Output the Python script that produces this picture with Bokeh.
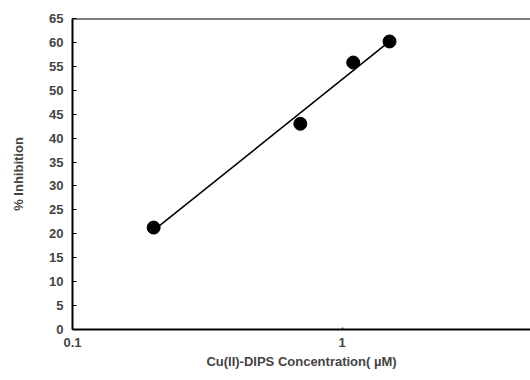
import numpy as np
from bokeh.plotting import figure
from bokeh.models import FixedTicker, Range1d, PrintfTickFormatter, Span
from bokeh.embed import file_html
from bokeh.resources import INLINE

conc = [0.2, 0.7, 1.1, 1.5]
inhibition = [21.3, 43.0, 55.8, 60.2]
y_ticks = list(range(0, 66, 5))
x_ticks = [0.1, 1]

# least-squares fit in log space
lx = np.log10(conc)
slope, icpt = np.polyfit(lx, inhibition, 1)
fit_x = [conc[0], conc[-1]]
fit_y = [icpt + slope * np.log10(v) for v in fit_x]

FONT = "Liberation Sans"

p = figure(frame_width=458, frame_height=311, x_axis_type="log", output_backend="svg",
           toolbar_location=None, x_range=Range1d(0.1, 5.0), y_range=Range1d(0, 65),
           min_border_left=72, min_border_right=0, min_border_top=18, min_border_bottom=40)
p.outline_line_color = None
p.grid.visible = False
p.background_fill_color = "white"

p.line(fit_x, fit_y, line_color="black", line_width=1.6)
p.scatter(conc, inhibition, size=13, color="black")

# top frame edge
p.add_layout(Span(location=p.y_range.end, dimension="width", line_color="black", line_width=2))

ya = p.yaxis[0]
ya.ticker = FixedTicker(ticks=y_ticks)
ya.axis_label = "% Inhibition"
ya.axis_line_width = 2
ya.major_tick_in = 4
ya.major_tick_out = 0
ya.minor_tick_line_color = None
ya.major_label_text_font = FONT
ya.major_label_text_font_style = "bold"
ya.major_label_text_font_size = "13px"
ya.axis_label_text_font = FONT
ya.axis_label_text_font_style = "bold"
ya.axis_label_text_font_size = "13px"
ya.major_label_standoff = 9
ya.axis_label_standoff = 20

xa = p.xaxis[0]
xa.ticker = FixedTicker(ticks=x_ticks)
xa.formatter = PrintfTickFormatter(format="%g")
xa.axis_label = "Cu(II)-DIPS Concentration( \u00b5M)"
xa.axis_line_width = 2
xa.major_tick_in = 2
xa.major_tick_out = 0
xa.minor_tick_line_color = None
xa.major_label_text_font = FONT
xa.major_label_text_font_style = "bold"
xa.major_label_text_font_size = "13px"
xa.axis_label_text_font = FONT
xa.axis_label_text_font_style = "bold"
xa.axis_label_text_font_size = "13px"
xa.major_label_standoff = 8
xa.axis_label_standoff = 4

open("out.html", "w").write(file_html(p, INLINE))
